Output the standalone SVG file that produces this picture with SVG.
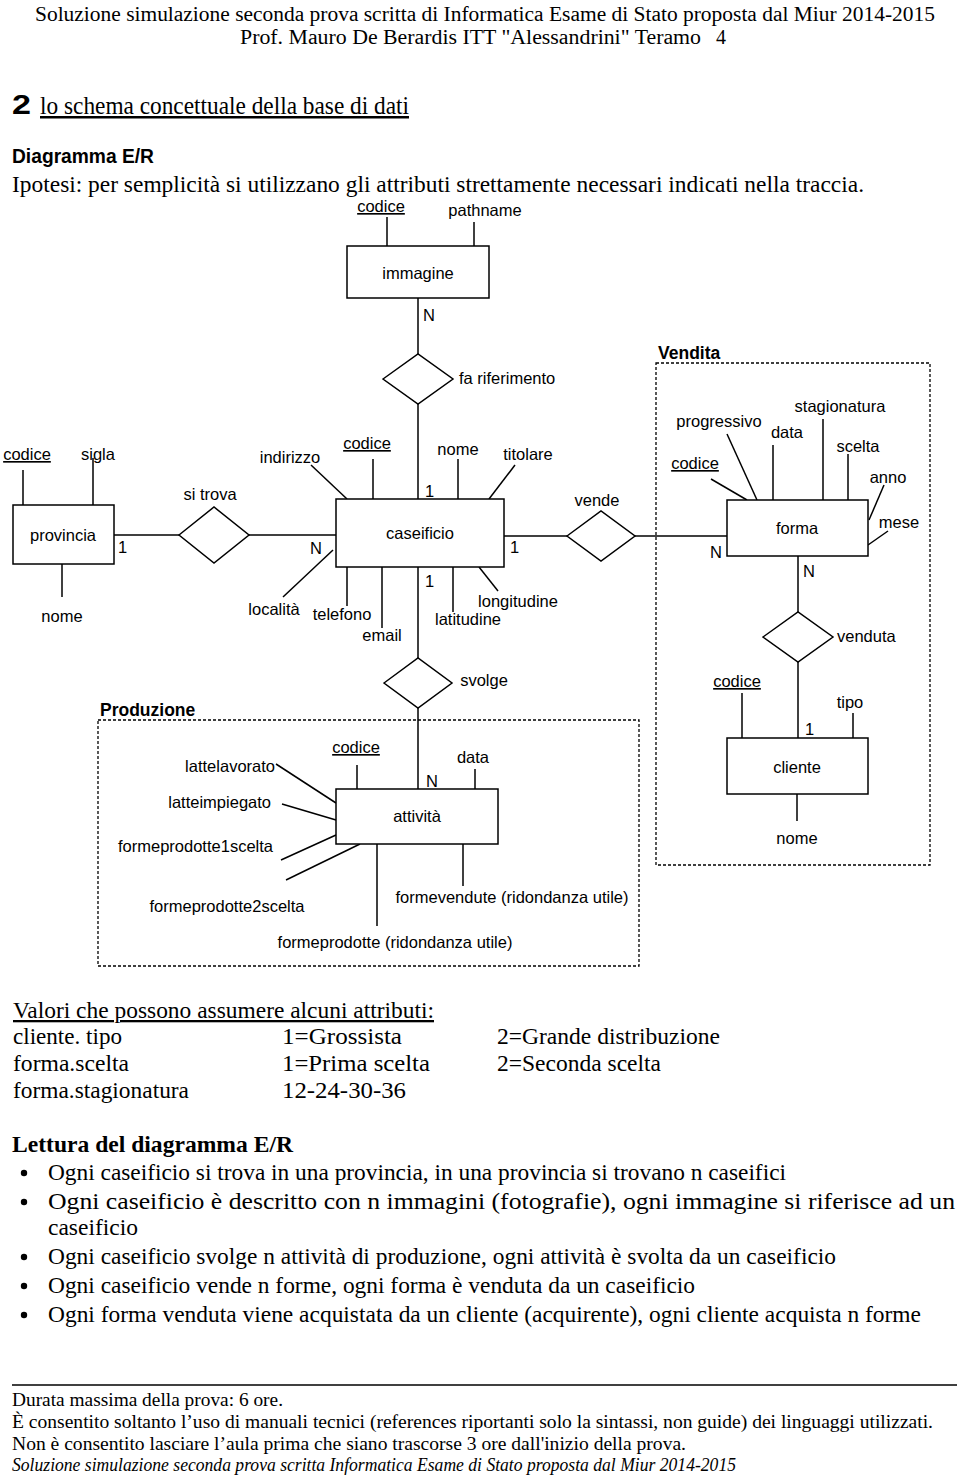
<svg xmlns="http://www.w3.org/2000/svg" width="960" height="1478" viewBox="0 0 960 1478">
<style>
.t{font-family:"Liberation Sans",Arial,sans-serif;font-size:16.5px;fill:#000}
.b{font-family:"Liberation Sans",Arial,sans-serif;font-size:17.5px;font-weight:bold;fill:#000}
.m{text-anchor:middle}
.r{text-anchor:end}
.u{text-decoration:underline}
.s{font-family:"Liberation Serif","Times New Roman",serif;fill:#000}
.e{fill:#fff;stroke:#000;stroke-width:1.5}
.c line{stroke:#000;stroke-width:1.5}
.g{fill:none;stroke:#000;stroke-width:1.3;stroke-dasharray:3 2}
</style>
<rect width="960" height="1478" fill="#fff"/>

<g id="page-text">
<text class="s" x="35" y="21" font-size="20" textLength="900" lengthAdjust="spacingAndGlyphs">Soluzione simulazione seconda prova scritta di Informatica Esame di Stato proposta dal Miur 2014-2015</text>
<text class="s" x="240" y="44" font-size="20" textLength="461" lengthAdjust="spacingAndGlyphs">Prof. Mauro De Berardis ITT "Alessandrini" Teramo</text>
<text class="s" x="716" y="44" font-size="20">4</text>
<text x="12" y="114" font-family="Liberation Sans,Arial,sans-serif" font-weight="bold" font-size="27" textLength="19" lengthAdjust="spacingAndGlyphs">2</text>
<text class="s u" x="40" y="114" font-size="25" textLength="369" lengthAdjust="spacingAndGlyphs">lo schema concettuale della base di dati</text>
<text x="12" y="163" font-family="Liberation Sans,Arial,sans-serif" font-weight="bold" font-size="20" textLength="142" lengthAdjust="spacingAndGlyphs">Diagramma E/R</text>
<text class="s" x="12" y="192" font-size="23" textLength="852" lengthAdjust="spacingAndGlyphs">Ipotesi: per semplicità si utilizzano gli attributi strettamente necessari indicati nella traccia.</text>

<text class="s u" x="13" y="1018" font-size="23" textLength="421" lengthAdjust="spacingAndGlyphs">Valori che possono assumere alcuni attributi:</text>
<text class="s" x="13" y="1044" font-size="23" textLength="109" lengthAdjust="spacingAndGlyphs">cliente. tipo</text>
<text class="s" x="282" y="1044" font-size="23" textLength="120" lengthAdjust="spacingAndGlyphs">1=Grossista</text>
<text class="s" x="497" y="1044" font-size="23" textLength="223" lengthAdjust="spacingAndGlyphs">2=Grande distribuzione</text>
<text class="s" x="13" y="1071" font-size="23" textLength="116" lengthAdjust="spacingAndGlyphs">forma.scelta</text>
<text class="s" x="282" y="1071" font-size="23" textLength="148" lengthAdjust="spacingAndGlyphs">1=Prima scelta</text>
<text class="s" x="497" y="1071" font-size="23" textLength="164" lengthAdjust="spacingAndGlyphs">2=Seconda scelta</text>
<text class="s" x="13" y="1098" font-size="23" textLength="176" lengthAdjust="spacingAndGlyphs">forma.stagionatura</text>
<text class="s" x="282" y="1098" font-size="23" textLength="124" lengthAdjust="spacingAndGlyphs">12-24-30-36</text>

<text class="s" x="12" y="1152" font-size="23" font-weight="bold" textLength="281" lengthAdjust="spacingAndGlyphs">Lettura del diagramma E/R</text>
<circle cx="24" cy="1173" r="3.2"/>
<text class="s" x="48" y="1180" font-size="23" textLength="738" lengthAdjust="spacingAndGlyphs">Ogni caseificio si trova in una provincia, in una provincia si trovano n caseifici</text>
<circle cx="24" cy="1202" r="3.2"/>
<text class="s" x="48" y="1209" font-size="23" textLength="907" lengthAdjust="spacingAndGlyphs">Ogni caseificio è descritto con n immagini (fotografie), ogni immagine si riferisce ad un</text>
<text class="s" x="48" y="1235" font-size="23" textLength="90" lengthAdjust="spacingAndGlyphs">caseificio</text>
<circle cx="24" cy="1257" r="3.2"/>
<text class="s" x="48" y="1264" font-size="23" textLength="788" lengthAdjust="spacingAndGlyphs">Ogni caseificio svolge n attività di produzione, ogni attività è svolta da un caseificio</text>
<circle cx="24" cy="1286" r="3.2"/>
<text class="s" x="48" y="1293" font-size="23" textLength="647" lengthAdjust="spacingAndGlyphs">Ogni caseificio vende n forme, ogni forma è venduta da un caseificio</text>
<circle cx="24" cy="1315" r="3.2"/>
<text class="s" x="48" y="1322" font-size="23" textLength="873" lengthAdjust="spacingAndGlyphs">Ogni forma venduta viene acquistata da un cliente (acquirente), ogni cliente acquista n forme</text>

<line x1="12" y1="1385" x2="957" y2="1385" stroke="#000" stroke-width="1.5"/>
<text class="s" x="12" y="1406" font-size="19" textLength="271" lengthAdjust="spacingAndGlyphs">Durata massima della prova: 6 ore.</text>
<text class="s" x="12" y="1428" font-size="19" textLength="921" lengthAdjust="spacingAndGlyphs">È consentito soltanto l’uso di manuali tecnici (references riportanti solo la sintassi, non guide) dei linguaggi utilizzati.</text>
<text class="s" x="12" y="1450" font-size="19" textLength="674" lengthAdjust="spacingAndGlyphs">Non è consentito lasciare l’aula prima che siano trascorse 3 ore dall'inizio della prova.</text>
<text class="s" x="12" y="1471" font-size="19" font-style="italic" textLength="724" lengthAdjust="spacingAndGlyphs">Soluzione simulazione seconda prova scritta Informatica Esame di Stato proposta dal Miur 2014-2015</text>
</g>

<g id="group-vendita">
<rect class="g" x="656" y="363" width="274" height="502"/>
<text class="b" x="658" y="359">Vendita</text>
</g>
<g id="group-produzione">
<rect class="g" x="98" y="720" width="541" height="246"/>
<text class="b" x="100" y="716">Produzione</text>
</g>

<g id="connectors" class="c">
<line x1="23" y1="470" x2="23" y2="505"/>
<line x1="93" y1="458" x2="93" y2="505"/>
<line x1="62" y1="564" x2="62" y2="597"/>
<line x1="114" y1="535" x2="179" y2="535"/>
<line x1="249" y1="535" x2="336" y2="535"/>
<line x1="311" y1="465" x2="347" y2="499"/>
<line x1="373" y1="459" x2="373" y2="499"/>
<line x1="458" y1="459" x2="458" y2="499"/>
<line x1="515" y1="465" x2="489" y2="499"/>
<line x1="333" y1="550" x2="283" y2="597"/>
<line x1="347" y1="567" x2="347" y2="606"/>
<line x1="382" y1="567" x2="382" y2="628"/>
<line x1="453" y1="567" x2="453" y2="612"/>
<line x1="479" y1="567" x2="498" y2="591"/>
<line x1="387" y1="217" x2="387" y2="246"/>
<line x1="474" y1="222" x2="474" y2="246"/>
<line x1="418" y1="298" x2="418" y2="354"/>
<line x1="418" y1="404" x2="418" y2="499"/>
<line x1="418" y1="567" x2="418" y2="658"/>
<line x1="418" y1="708" x2="418" y2="789"/>
<line x1="504" y1="536" x2="567" y2="536"/>
<line x1="635" y1="536" x2="727" y2="536"/>
<line x1="711" y1="479" x2="747" y2="500"/>
<line x1="727" y1="434" x2="757" y2="500"/>
<line x1="773" y1="445" x2="773" y2="500"/>
<line x1="823" y1="419" x2="823" y2="500"/>
<line x1="848" y1="454" x2="848" y2="500"/>
<line x1="884" y1="485" x2="869" y2="520"/>
<line x1="888" y1="531" x2="868" y2="545"/>
<line x1="798" y1="556" x2="798" y2="612"/>
<line x1="798" y1="662" x2="798" y2="738"/>
<line x1="742" y1="693" x2="742" y2="738"/>
<line x1="853" y1="713" x2="853" y2="738"/>
<line x1="797" y1="794" x2="797" y2="821"/>
<line x1="357" y1="765" x2="357" y2="789"/>
<line x1="475" y1="769" x2="475" y2="789"/>
<line x1="276" y1="764" x2="336" y2="803"/>
<line x1="282" y1="804" x2="336" y2="820"/>
<line x1="281" y1="860" x2="336" y2="835"/>
<line x1="286" y1="880" x2="360" y2="844"/>
<line x1="377" y1="844" x2="377" y2="926"/>
<line x1="463" y1="844" x2="463" y2="886"/>
</g>

<g id="provincia">
<rect class="e" x="13" y="505" width="101" height="59"/>
<text class="t m" x="63" y="541">provincia</text>
<text class="t m u" x="27" y="460">codice</text>
<text class="t m" x="98" y="460">sigla</text>
<text class="t m" x="62" y="622">nome</text>
<text class="t" x="118" y="553">1</text>
</g>

<g id="si-trova">
<polygon class="e" points="179,535 214,507 249,535 214,563"/>
<text class="t m" x="210" y="500">si trova</text>
</g>

<g id="caseificio">
<rect class="e" x="336" y="499" width="168" height="68"/>
<text class="t m" x="420" y="539">caseificio</text>
<text class="t m" x="290" y="463">indirizzo</text>
<text class="t m u" x="367" y="449">codice</text>
<text class="t m" x="458" y="455">nome</text>
<text class="t m" x="528" y="460">titolare</text>
<text class="t m" x="274" y="615">località</text>
<text class="t m" x="342" y="620">telefono</text>
<text class="t m" x="382" y="641">email</text>
<text class="t m" x="468" y="625">latitudine</text>
<text class="t m" x="518" y="607">longitudine</text>
<text class="t" x="310" y="554">N</text>
<text class="t" x="425" y="497">1</text>
<text class="t" x="425" y="587">1</text>
<text class="t" x="510" y="553">1</text>
</g>

<g id="immagine">
<rect class="e" x="347" y="246" width="142" height="52"/>
<text class="t m" x="418" y="279">immagine</text>
<text class="t m u" x="381" y="212">codice</text>
<text class="t m" x="485" y="216">pathname</text>
<text class="t" x="423" y="321">N</text>
</g>

<g id="fa-riferimento">
<polygon class="e" points="383,379 418,354 453,379 418,404"/>
<text class="t" x="459" y="384">fa riferimento</text>
</g>

<g id="vende">
<polygon class="e" points="567,536 601,511 635,536 601,561"/>
<text class="t m" x="597" y="506">vende</text>
</g>

<g id="svolge">
<polygon class="e" points="384,683 418,658 452,683 418,708"/>
<text class="t m" x="484" y="686">svolge</text>
</g>

<g id="attivita">
<rect class="e" x="336" y="789" width="162" height="55"/>
<text class="t m" x="417" y="822">attività</text>
<text class="t m u" x="356" y="753">codice</text>
<text class="t m" x="473" y="763">data</text>
<text class="t" x="426" y="787">N</text>
<text class="t r" x="275" y="772">lattelavorato</text>
<text class="t r" x="271" y="808">latteimpiegato</text>
<text class="t r" x="273" y="852">formeprodotte1scelta</text>
<text class="t m" x="227" y="912">formeprodotte2scelta</text>
<text class="t m" x="512" y="903">formevendute (ridondanza utile)</text>
<text class="t m" x="395" y="948">formeprodotte (ridondanza utile)</text>
</g>

<g id="forma">
<rect class="e" x="727" y="500" width="141" height="56"/>
<text class="t m" x="797" y="534">forma</text>
<text class="t m u" x="695" y="469">codice</text>
<text class="t m" x="719" y="427">progressivo</text>
<text class="t m" x="787" y="438">data</text>
<text class="t m" x="840" y="412">stagionatura</text>
<text class="t m" x="858" y="452">scelta</text>
<text class="t m" x="888" y="483">anno</text>
<text class="t m" x="899" y="528">mese</text>
<text class="t" x="710" y="558">N</text>
<text class="t" x="803" y="577">N</text>
</g>

<g id="venduta">
<polygon class="e" points="763,637 798,612 833,637 798,662"/>
<text class="t" x="837" y="642">venduta</text>
</g>

<g id="cliente">
<rect class="e" x="727" y="738" width="141" height="56"/>
<text class="t m" x="797" y="773">cliente</text>
<text class="t m u" x="737" y="687">codice</text>
<text class="t m" x="850" y="708">tipo</text>
<text class="t m" x="797" y="844">nome</text>
<text class="t" x="805" y="735">1</text>
</g>
</svg>
